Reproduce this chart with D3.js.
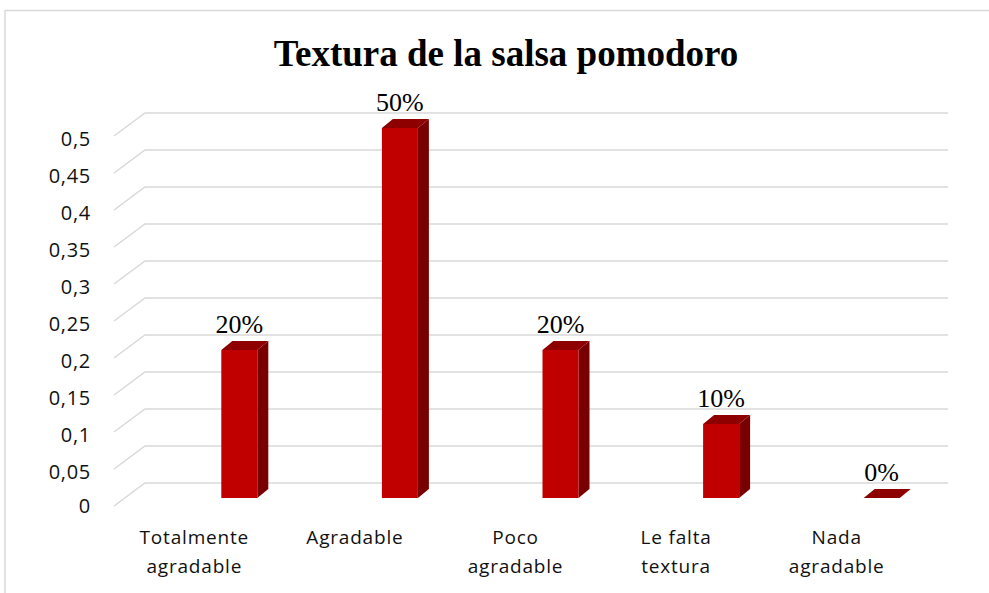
<!DOCTYPE html>
<html>
<head>
  <meta charset="utf-8">
  <title>Textura de la salsa pomodoro</title>
  <script src="https://d3js.org/d3.v7.min.js"></script>
  <style>
    body { margin: 0; background: #fff; }
    svg { display: block; }
  </style>
</head>
<body>
  <div id="chart"></div>
  <script>
    // chart data
    var categories = [["Totalmente", "agradable"], ["Agradable"], ["Poco", "agradable"], ["Le falta", "textura"], ["Nada", "agradable"]];
    var values = [0.2, 0.5, 0.2, 0.1, 0];
    var valueLabels = ["20%", "50%", "20%", "10%", "0%"];
    var yTicks = [0, 0.05, 0.1, 0.15, 0.2, 0.25, 0.3, 0.35, 0.4, 0.45, 0.5];

    var width = 989, height = 593;

    // wall depth (front plane -> back plane) and bar depth
    var wallDx = 31, wallDy = -23;
    var barDx = 11, barDy = -9;

    var svg = d3.select("#chart").append("svg")
      .attr("width", width)
      .attr("height", height);

    // chart frame
    svg.append("path")
      .attr("d", "M5,593 V10.5 H989")
      .attr("fill", "none")
      .attr("stroke", "#d9d9d9")
      .attr("stroke-width", 1.5);

    var x = d3.scaleBand()
      .domain(d3.range(categories.length))
      .range([114, 917]);

    var y = d3.scaleLinear()
      .domain([0, 0.5])
      .range([506, 136]);

    var locale = d3.formatLocale({ decimal: ",", thousands: ".", grouping: [3], currency: ["", "€"] });
    var fmt = locale.format("~g");

    // gridlines: floor diagonal + back wall line
    svg.append("g").selectAll("path")
      .data(yTicks)
      .join("path")
      .attr("d", d => {
        var yf = y(d);
        return "M" + x.range()[0] + "," + yf +
          " L" + (x.range()[0] + wallDx) + "," + (yf + wallDy) +
          " H" + (x.range()[1] + wallDx);
      })
      .attr("fill", "none")
      .attr("stroke", "#d9d9d9")
      .attr("stroke-width", 1.5);

    // y tick labels
    svg.append("g").selectAll("text")
      .data(yTicks)
      .join("text")
      .attr("x", 91)
      .attr("y", d => y(d) + (d === 0 ? 0 : 3))
      .attr("dy", "0.35em")
      .attr("text-anchor", "end")
      .attr("font-family", "'Open Sans', 'Liberation Sans', sans-serif")
      .attr("font-size", 20)
      .attr("letter-spacing", 0.7)
      .attr("fill", "#111")
      .text(d => fmt(d));

    // bars (front face, side, top)
    var barW = 36, barOff = 27, floorLift = 8;
    var bars = svg.append("g").selectAll("g")
      .data(values)
      .join("g");

    bars.each(function (v, i) {
      var g = d3.select(this);
      var x0 = x(i) + x.bandwidth() / 2 + barOff, x1 = x0 + barW;
      var yb = y(0) - floorLift, yt = y(v) - floorLift;
      // side
      g.append("path")
        .attr("d", "M" + x1 + "," + yb + " L" + (x1 + barDx) + "," + (yb + barDy) +
          " L" + (x1 + barDx) + "," + (yt + barDy) + " L" + x1 + "," + yt + "Z")
        .attr("fill", "#780000");
      // top
      g.append("path")
        .attr("d", "M" + x0 + "," + yt + " L" + (x0 + barDx) + "," + (yt + barDy) +
          " L" + (x1 + barDx) + "," + (yt + barDy) + " L" + x1 + "," + yt + "Z")
        .attr("fill", "#8e0000");
      // front
      if (v > 0) {
        g.append("rect")
          .attr("x", x0)
          .attr("y", yt)
          .attr("width", barW)
          .attr("height", yb - yt)
          .attr("fill", "#c00000");
      }
    });

    // value labels
    svg.append("g").selectAll("text")
      .data(values)
      .join("text")
      .attr("x", (d, i) => x(i) + x.bandwidth() / 2 + barOff + barW / 2)
      .attr("y", d => y(d) - floorLift + barDy - 8)
      .attr("text-anchor", "middle")
      .attr("font-family", "'Liberation Serif', 'Times New Roman', serif")
      .attr("font-size", 26)
      .attr("fill", "#000")
      .text((d, i) => valueLabels[i]);

    // category labels
    var catText = svg.append("g").selectAll("text")
      .data(categories)
      .join("text")
      .attr("x", (d, i) => x(i) + x.bandwidth() / 2)
      .attr("y", 544)
      .attr("text-anchor", "middle")
      .attr("font-family", "'Open Sans', 'Liberation Sans', sans-serif")
      .attr("font-size", 19)
      .attr("letter-spacing", 0.8)
      .attr("fill", "#111");

    catText.selectAll("tspan")
      .data(d => d)
      .join("tspan")
      .attr("x", function () { return d3.select(this.parentNode).attr("x"); })
      .attr("dy", (d, j) => j === 0 ? 0 : 29)
      .text(d => d);

    // title
    svg.append("text")
      .attr("x", 506)
      .attr("y", 66)
      .attr("text-anchor", "middle")
      .attr("font-family", "'Liberation Serif', 'Times New Roman', serif")
      .attr("font-weight", "bold")
      .attr("font-size", 37)
      .attr("fill", "#000")
      .text("Textura de la salsa pomodoro");
  </script>
</body>
</html>
